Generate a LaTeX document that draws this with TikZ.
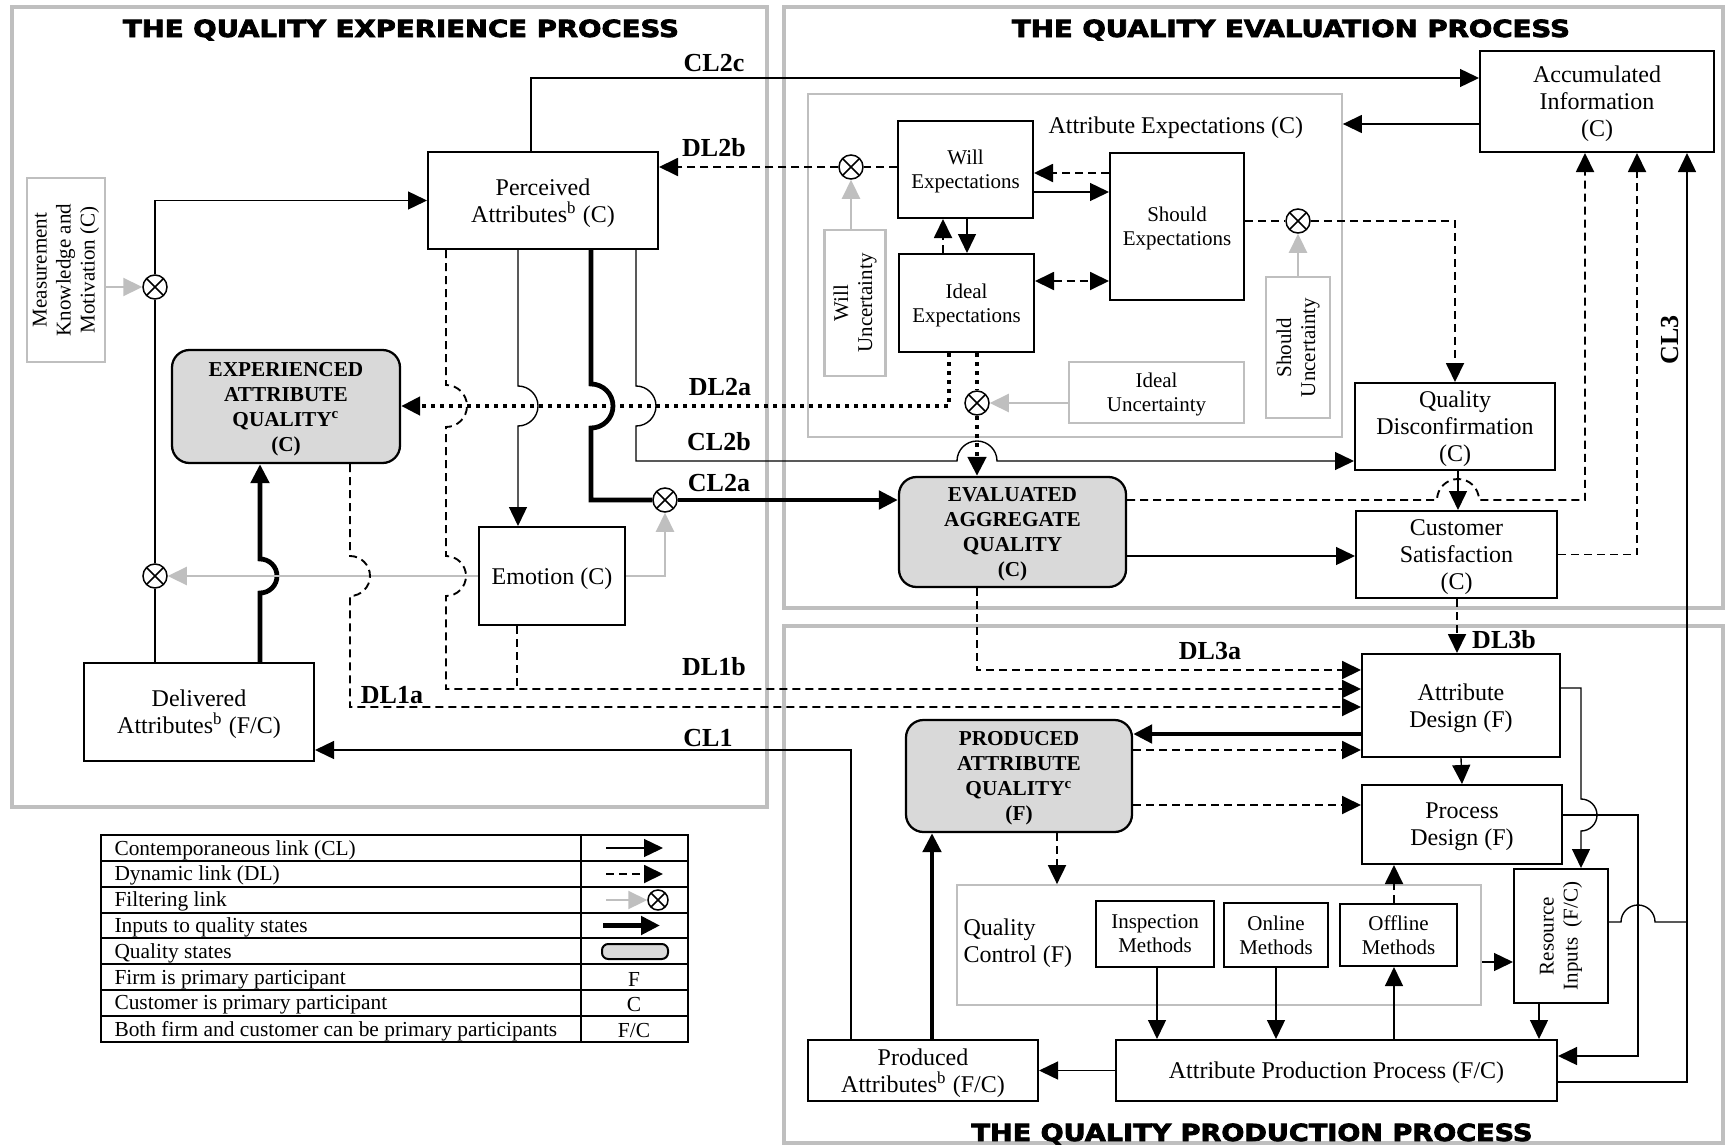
\documentclass[tikz,border=0pt]{standalone}
\usepackage{fontspec}
\setmainfont{Liberation Serif}
\newfontfamily\titlefont{DejaVu Sans}[FakeBold=3]
\usetikzlibrary{arrows.meta}
\definecolor{lgray}{HTML}{BFBFBF}
\definecolor{sfill}{HTML}{D9D9D9}
\newcommand\hopD[3]{-- (#1,#2-#3) arc[start angle=270,end angle=450,radius=#3]}
\newcommand\hopU[3]{-- (#1,#2+#3) arc[start angle=90,end angle=-90,radius=#3]}
\newcommand\hopR[3]{-- (#1-#3,#2) arc[start angle=180,end angle=360,radius=#3]}
\newcommand\ttl[2]{\resizebox{#1}{7pt}{\titlefont\bfseries #2}}
\begin{document}
\begin{tikzpicture}[x=0.4pt,y=-0.4pt,
  >={Triangle[length=7.6pt,width=7.2pt]},
  font=\fontsize{9.6}{10.8}\selectfont,
  wh/.style 2 args={minimum width=#1*0.4pt, minimum height=#2*0.4pt},
  box/.style={draw, line width=0.8pt, inner sep=0pt, align=center, fill=white, text depth=-0.7pt},
  oneline/.style={text depth=0.2pt},
  ubox/.style={draw=lgray, line width=0.9pt, inner sep=0pt, align=center, fill=white, text depth=-0.7pt},
  gbox/.style={draw=lgray, line width=0.7pt, inner sep=0pt},
  state/.style={draw, line width=0.9pt, fill=sfill, rounded corners=7pt, inner sep=0pt, align=center, text depth=-0.9pt, font=\fontsize{8.5}{10}\selectfont\bfseries},
  sm/.style={font=\fontsize{8.4}{9.6}\selectfont},
  leg/.style={font=\fontsize{8.56}{10}\selectfont, inner sep=0pt},
  lab/.style={font=\fontsize{10.4}{12}\selectfont\bfseries, inner sep=0pt},
  ox/.style={circle, draw, fill=white, line width=0.6pt, minimum size=9.6pt, inner sep=0pt,
    path picture={\draw[line width=0.6pt] (path picture bounding box.north west) -- (path picture bounding box.south east)
      (path picture bounding box.north east) -- (path picture bounding box.south west);}},
  cl/.style={line width=0.55pt},
  dl/.style={line width=0.75pt, dash pattern=on 3.2pt off 2pt},
  fl/.style={draw=lgray, line width=0.9pt},
  tl/.style={line width=1.9pt},
  dt/.style={line width=1.8pt, dash pattern=on 1.6pt off 2pt},
  outerbox/.style={draw=lgray, line width=1.8pt},
  legline/.style={line width=0.8pt}
]
\useasboundingbox (0,0) rectangle (1733,1146);

% process frames
\draw[outerbox] (12,7) rectangle (767,807);
\draw[outerbox] (784,7) rectangle (1723,608);
\draw[outerbox] (784,626) rectangle (1723,1143);

\node[anchor=base, inner sep=0pt] (t1) at (401,37) {\ttl{222.4pt}{THE QUALITY EXPERIENCE PROCESS}};
\node[anchor=base, inner sep=0pt] (t2) at (1291,37) {\ttl{223.2pt}{THE QUALITY EVALUATION PROCESS}};
\node[anchor=base, inner sep=0pt] (t3) at (1252,1141) {\ttl{224.4pt}{THE QUALITY PRODUCTION PROCESS}};

% grouping boxes
\node[gbox, wh={534}{343}] (attrexp) at (1075,265.5) {};
\node[anchor=west, inner sep=0pt] (attrexpl) at (1048,128) {Attribute Expectations (C)};
\node[gbox, wh={524}{120}] (qc) at (1219,945) {};
\node[anchor=west, inner sep=0pt, align=left] (qcl) at (963,943) {Quality\\Control (F)};

% nodes
\node[ubox, wh={78}{184}] (meas) at (66,270) {};
\node[sm, rotate=90, align=center, inner sep=0pt] at (meas) {Measurement\\Knowledge and\\Motivation (C)};
\node[box, wh={230}{97}] (perc) at (543,200.5) {Perceived\\Attributes\textsuperscript{b} (C)};
\node[state, wh={228}{113}] (exq) at (286,406.5) {EXPERIENCED\\ATTRIBUTE\\QUALITY\textsuperscript{c}\\(C)};
\node[box, oneline, wh={146}{98}] (emo) at (552,576) {Emotion (C)};
\node[box, wh={230}{98}] (deliv) at (199,712) {Delivered\\Attributes\textsuperscript{b} (F/C)};
\node[box, sm, wh={135}{97}] (will) at (965.5,169.5) {Will\\Expectations};
\node[box, sm, wh={134}{147}] (should) at (1177,226.5) {Should\\Expectations};
\node[box, sm, wh={135}{98}] (ideal) at (966.5,303) {Ideal\\Expectations};
\node[ubox, wh={61}{146}] (willu) at (855,303) {};
\node[sm, rotate=90, align=center, inner sep=0pt] at (willu) {Will\\Uncertainty};
\node[ubox, wh={64}{141}] (shouldu) at (1298,347.5) {};
\node[sm, rotate=90, align=center, inner sep=0pt] at (shouldu) {Should\\Uncertainty};
\node[ubox, sm, wh={175}{61}] (idealu) at (1156.5,392.5) {Ideal\\Uncertainty};
\node[box, wh={234}{101}] (accum) at (1597,101.5) {Accumulated\\Information\\(C)};
\node[box, wh={200}{87}] (qd) at (1455,426.5) {Quality\\Disconfirmation\\(C)};
\node[box, wh={201}{87}] (cs) at (1456.5,554.5) {Customer\\Satisfaction\\(C)};
\node[state, wh={227}{110}] (eaq) at (1012.5,532) {EVALUATED\\AGGREGATE\\QUALITY\\(C)};
\node[box, wh={198}{103}] (ad) at (1461,705.5) {Attribute\\Design (F)};
\node[box, wh={200}{79}] (pd) at (1462,824.5) {Process\\Design (F)};
\node[state, wh={226}{112}] (paq) at (1019,776) {PRODUCED\\ATTRIBUTE\\QUALITY\textsuperscript{c}\\(F)};
\node[box, sm, wh={118}{66}] (insp) at (1155,934) {Inspection\\Methods};
\node[box, sm, wh={104}{64}] (online) at (1276,935) {Online\\Methods};
\node[box, sm, wh={117}{62}] (offline) at (1398.5,935) {Offline\\Methods};
\node[box, wh={94}{134}] (ri) at (1561,936) {};
\node[sm, rotate=90, align=center, inner sep=0pt] at (ri) {Resource\\Inputs\ \ (F/C)};
\node[box, oneline, wh={441}{61}] (app) at (1336.5,1070.5) {Attribute Production Process (F/C)};
\node[box, wh={230}{61}] (pa) at (923,1070.5) {Produced\\Attributes\textsuperscript{b} (F/C)};

% filters
\node[ox] (ox1) at (155,287) {};
\node[ox] (ox2) at (155,576) {};
\node[ox] (ox3) at (851,167) {};
\node[ox] (ox4) at (1298,221) {};
\node[ox] (ox5) at (977,403) {};
\node[ox] (ox6) at (665,500) {};

% ---------- connectors: experience ----------
\draw[fl,->] (meas.east |- ox1) -- (ox1.west);
\draw[cl] (deliv.north -| ox2) -- (ox2.south);
\draw[cl] (ox2.north) -- (ox1.south);
\draw[cl,->] (ox1.north) |- (perc.west);
\draw[tl,->] (deliv.north -| 260,0) \hopU{260}{576}{17} -- (exq.south -| 260,0);
\draw[fl,->] (emo.west) -- (ox2.east);
\draw[fl,->] (emo.east) -| (ox6.south);
\draw[dl,->] (perc.south -| 446,0) \hopD{446}{406}{21} \hopD{446}{576}{20} -- (446,689) -- (ad.west |- 0,689);
\draw[dl] (emo.south -| 517,0) -- (517,689);
\draw[cl,->] (perc.south -| 518,0) \hopD{518}{406}{20} -- (emo.north -| 518,0);
\draw[tl] (perc.south -| 591,0) \hopD{591}{406}{22} |- (ox6.west);
\draw[tl,->] (ox6.east) -- (eaq.west |- ox6);
\draw[cl,->] (perc.south -| 636,0) \hopD{636}{406}{20} -- (636,461) \hopR{977}{461}{20} -- (qd.west |- 0,461);
\draw[cl,->] (perc.north -| 531,0) |- (accum.west |- 0,78);
\draw[dl,->] (exq.south -| 350,0) \hopD{350}{576}{20} |- (ad.west |- 0,707);
\draw[cl,->] (pa.north -| 851,0) |- (deliv.east |- 0,750);

% ---------- connectors: evaluation ----------
\draw[dl,->] (ox3.west) -- (perc.east |- ox3);
\draw[dl] (will.west |- ox3) -- (ox3.east);
\draw[fl,->] (willu.north -| ox3) -- (ox3.south);
\draw[dl,->] (should.west |- 0,173) -- (will.east |- 0,173);
\draw[cl,->] (will.east |- 0,192) -- (should.west |- 0,192);
\draw[dl,<->] (ideal.east |- 0,281) -- (should.west |- 0,281);
\draw[dl,->] (ideal.north -| 943,0) -- (will.south -| 943,0);
\draw[cl,->] (will.south -| 967,0) -- (ideal.north -| 967,0);
\draw[dl] (should.east |- ox4) -- (ox4.west);
\draw[dl,->] (ox4.east) -| (qd.north);
\draw[fl,->] (shouldu.north -| ox4) -- (ox4.south);
\draw[dt,->] (ideal.south -| 949,0) |- (exq.east |- 0,406);
\draw[dt] (ideal.south -| ox5) -- (ox5.north);
\draw[dt,->] (ox5.south) -- (eaq.north -| ox5);
\draw[fl,->] (idealu.west |- ox5) -- (ox5.east);
\draw[cl,->] (accum.west |- 0,124) -- (attrexp.east |- 0,124);
\draw[dl,->] (eaq.east |- 0,500) \hopR{1458}{500}{21} -| (accum.south -| 1585,0);
\draw[cl,->] (eaq.east |- 0,556) -- (cs.west |- 0,556);
\draw[cl,->] (qd.south -| 1458,0) -- (cs.north -| 1458,0);
\draw[dl,->] (cs.east) -| (accum.south -| 1637,0);
\draw[dl,->] (eaq.south -| 977,0) |- (ad.west |- 0,670);
\draw[dl,->] (cs.south -| 1457,0) -- (ad.north -| 1457,0);

% ---------- connectors: production ----------
\draw[tl,->] (ad.west |- 0,734) -- (paq.east |- 0,734);
\draw[dl,->] (paq.east |- 0,750) -- (ad.west |- 0,750);
\draw[dl,->] (paq.east |- 0,805) -- (pd.west |- 0,805);
\draw[dl,->] (paq.south -| 1057,0) -- (qc.north -| 1057,0);
\draw[cl,->] (ad.south) -- (pd.north);
\draw[cl,->] (ad.east |- 0,688) -- (1581,688) \hopD{1581}{815}{16} -- (ri.north -| 1581,0);
\draw[cl,->] (pd.east |- 0,815) -- (1638,815) -- (1638,1056) -- (app.east |- 0,1056);
\draw[cl] (ri.east |- 0,922) \hopR{1638}{922}{17} -- (1687,922);
\draw[cl,->] (app.east |- 0,1082) -| (accum.south -| 1687,0);
\draw[cl,->] (ri.south -| 1539,0) -- (app.north -| 1539,0);
\draw[cl,->] (qc.east |- 0,962) -- (ri.west |- 0,962);
\draw[dl,->] (offline.north -| 1394,0) -- (pd.south -| 1394,0);
\draw[cl,->] (app.north -| 1394,0) -- (offline.south -| 1394,0);
\draw[cl,->] (insp.south -| 1157,0) -- (app.north -| 1157,0);
\draw[cl,->] (online.south -| 1276,0) -- (app.north -| 1276,0);
\draw[cl,->] (app.west |- pa) -- (pa.east);
\draw[tl,->] (pa.north -| 932,0) -- (paq.south -| 932,0);

% labels
\node[lab] (lcl2c) at (714,63) {CL2c};
\node[lab] (ldl2b) at (714,148) {DL2b};
\node[lab] (ldl2a) at (720,387) {DL2a};
\node[lab] (lcl2b) at (719,442) {CL2b};
\node[lab] (lcl2a) at (719,483) {CL2a};
\node[lab] (ldl1b) at (714,667) {DL1b};
\node[lab] (ldl1a) at (392,695) {DL1a};
\node[lab] (lcl1) at (708,738) {CL1};
\node[lab] (ldl3a) at (1210,651) {DL3a};
\node[lab] (ldl3b) at (1504,640) {DL3b};
\node[lab, rotate=90] (lcl3) at (1670,340) {CL3};

% legend
\draw[legline] (101,835) rectangle (688,1042);
\draw[legline] (581,835) -- (581,1042);
\foreach \yy in {861,887,913,938,964,990,1016} \draw[legline] (101,\yy) -- (688,\yy);
\foreach \t [count=\i] in {Contemporaneous link (CL),Dynamic link (DL),Filtering link,Inputs to quality states,Quality states,Firm is primary participant,Customer is primary participant,Both firm and customer can be primary participants}
  \node[leg, anchor=west] at (114,{837+(\i-0.5)*25.875}) {\t};
\draw[cl,->] (606,848) -- (663,848);
\draw[dl,->] (606,874) -- (663,874);
\node[ox, minimum size=8pt] (lox) at (658,900) {};
\draw[fl,->] (606,900) -- (lox.west);
\draw[tl,->] (603,925.5) -- (660,925.5);
\draw[fill=sfill, line width=0.8pt, rounded corners=2.5pt] (602,944) rectangle (668,959);
\node[leg] at (634,979) {F};
\node[leg] at (634,1005) {C};
\node[leg] at (634,1031) {F/C};
\end{tikzpicture}
\end{document}
